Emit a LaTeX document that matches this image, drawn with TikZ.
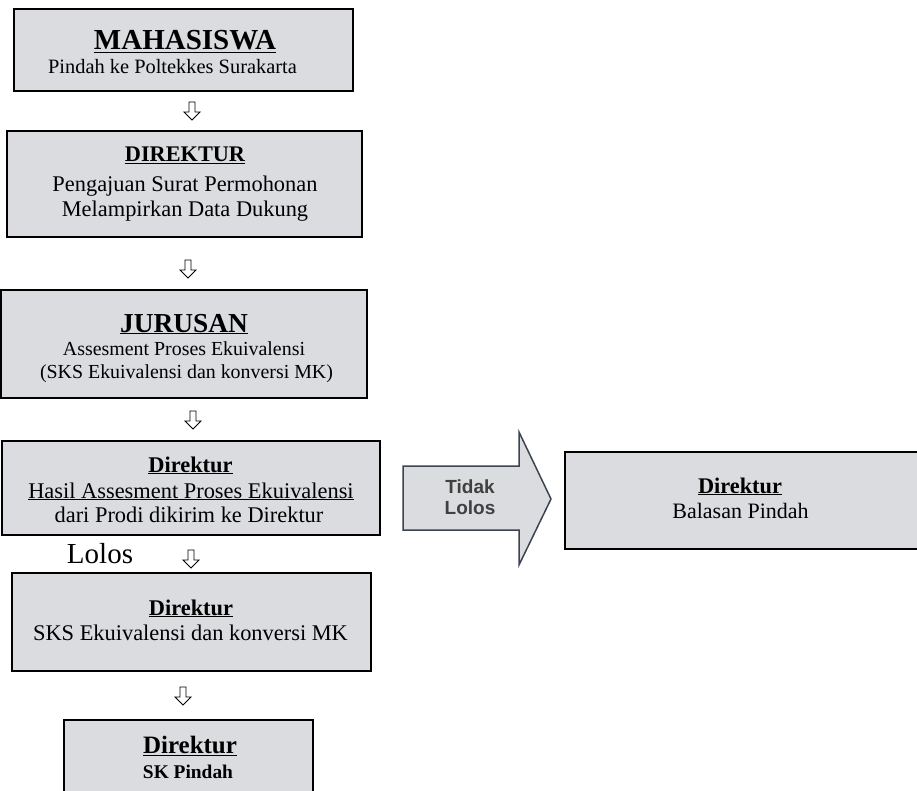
\documentclass[tikz,border=0pt]{standalone}
\usepackage{fontspec}
\setmainfont{Liberation Serif}
\newfontfamily\arialfont{Liberation Sans}
\definecolor{boxfill}{RGB}{219,220,223}
\definecolor{arrline}{RGB}{60,68,82}
\definecolor{tidakcol}{RGB}{64,64,64}
\tikzset{
  boxshape/.style={draw=black, line width=1.5pt, fill=boxfill},
  txt/.style={anchor=base, inner sep=0pt, text=black},
  downarr/.pic={\draw[line width=0.8pt, fill=white] (-3,-9) -- (3,-9) -- (3,1) -- (8,1) -- (0,9) -- (-8,1) -- (-3,1) -- cycle;}
}
\newcommand{\fs}[1]{\fontsize{#1}{#1}\selectfont}
\begin{document}
\begin{tikzpicture}[x=1pt,y=-1pt]
\useasboundingbox (0,0) rectangle (917,791);
% boxes
\draw[boxshape] (14,9) rectangle (353,91);
\coordinate (b1s) at (183,91);
\draw[boxshape] (7,131) rectangle (362,237);
\draw[boxshape] (1,290) rectangle (367,398);
\draw[boxshape] (2,441) rectangle (380,535);
\draw[boxshape] (12,573) rectangle (371,671);
\draw[boxshape] (64,720) rectangle (313,805);
\draw[boxshape] (565,452) rectangle (917.5,549);
% texts box 1
\node[txt] (t1a) at (185,50) {\fs{29}\bfseries\underline{MAHASISWA}};
\node[txt] (t1b) at (172.5,74) {\fs{20.4}Pindah ke Poltekkes Surakarta};
% box 2
\node[txt] (t2a) at (185,162) {\fs{22.3}\bfseries\underline{DIREKTUR}};
\node[txt] (t2b) at (185,192) {\fs{22.4}Pengajuan Surat Permohonan};
\node[txt] (t2c) at (185,217) {\fs{22.4}Melampirkan Data Dukung};
% box 3
\node[txt] (t3a) at (184,332) {\fs{27.4}\bfseries\underline{JURUSAN}};
\node[txt] (t3b) at (184,355) {\fs{19.9}Assesment Proses Ekuivalensi};
\node[txt] (t3c) at (186.5,378) {\fs{19.9}(SKS Ekuivalensi dan konversi MK)};
% box 4
\node[txt] (t4a) at (190.5,472) {\fs{22.4}\bfseries\underline{Direktur}};
\node[txt] (t4b) at (191,498) {\fs{22.4}\underline{Hasil Assesment Proses Ekuivalensi}};
\node[txt] (t4c) at (189,522) {\fs{22.4}dari Prodi dikirim ke Direktur};
% Lolos
\node[txt] (lolos) at (100,563) {\fs{29}Lolos};
% box 5
\node[txt] (t5a) at (191,615) {\fs{22.4}\bfseries\underline{Direktur}};
\node[txt] (t5b) at (190.5,640) {\fs{22.4}SKS Ekuivalensi dan konversi MK};
% box 6
\node[txt] (t6a) at (190,753) {\fs{25}\bfseries\underline{Direktur}};
\node[txt] (t6b) at (188,778) {\fs{19.4}\bfseries SK Pindah};
% right box
\node[txt] (t7a) at (740,493) {\fs{22.3}\bfseries\underline{Direktur}};
\node[txt] (t7b) at (740.5,518) {\fs{22}Balasan Pindah};
% block arrow
\draw[line width=1.5pt, draw=arrline, fill=boxfill, line join=miter]
  (403,466) -- (519,466) -- (519,432) -- (551,499) -- (519,565) -- (519,530) -- (403,530) -- cycle;
\node[txt, text=tidakcol] (tidak) at (470,493) {\arialfont\fs{19}\bfseries Tidak};
\node[txt, text=tidakcol] (lolos2) at (470,514) {\arialfont\fs{19}\bfseries Lolos};
% down arrows
\pic at (192,111) {downarr};
\pic at (188,269) {downarr};
\pic at (193,420) {downarr};
\pic at (191,559) {downarr};
\pic at (183,696) {downarr};
\end{tikzpicture}
\end{document}
